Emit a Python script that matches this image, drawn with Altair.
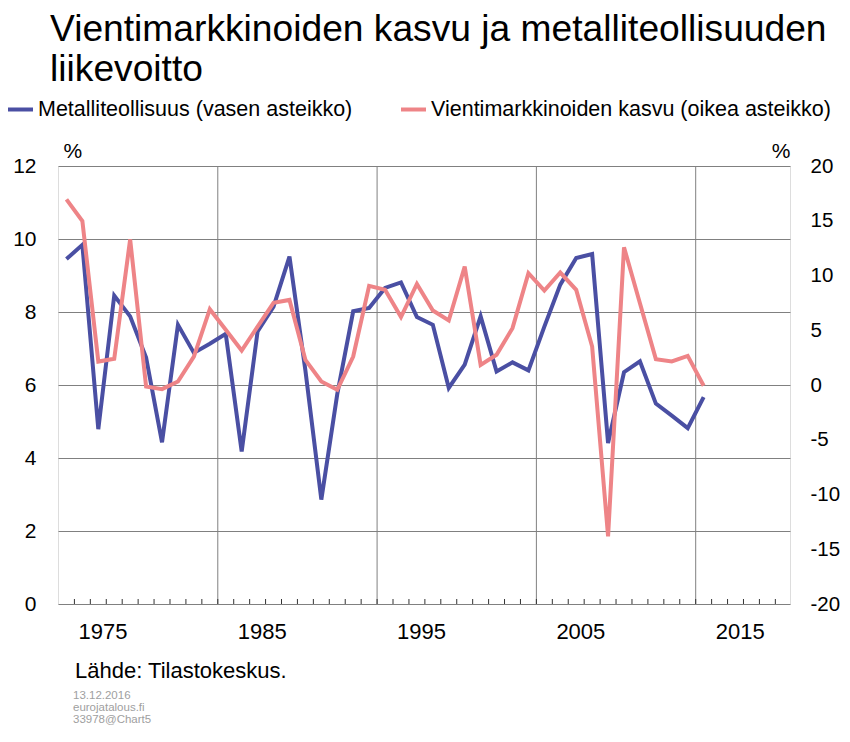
import altair as alt
import pandas as pd

# ---- data ----
years = list(range(1975, 2016))
metal = [9.45, 9.84, 4.79, 8.45, 7.88, 6.75, 4.43, 7.65, 6.88, 7.13, 7.4, 4.18, 7.47,
         8.15, 9.52, 6.4, 2.86, 5.75, 8.02, 8.11, 8.66, 8.81, 7.86, 7.65, 5.92, 6.56,
         7.88, 6.37, 6.62, 6.4, 7.6, 8.75, 9.48, 9.59, 4.41, 6.35, 6.65, 5.49, 5.16,
         4.82, 5.67]
vienti = [16.95, 14.98, 2.14, 2.39, 13.3, -0.14, -0.38, 0.32, 2.6, 6.92, 5.04, 3.15,
          5.34, 7.5, 7.77, 2.3, 0.32, -0.44, 2.6, 9.05, 8.69, 6.2, 9.23, 6.8, 5.89,
          10.81, 1.84, 2.76, 5.19, 10.21, 8.62, 10.27, 8.69, 3.51, -13.82, 12.58, 7.47,
          2.36, 2.15, 2.66, -0.07]
label_years = [1975, 1985, 1995, 2005, 2015]
left_ticks = [0, 2, 4, 6, 8, 10, 12]
right_ticks = [-20, -15, -10, -5, 0, 5, 10, 15, 20]
series_names = ["Metalliteollisuus (vasen asteikko)",
                "Vientimarkkinoiden kasvu (oikea asteikko)"]
title_lines = ["Vientimarkkinoiden kasvu ja metalliteollisuuden", "liikevoitto"]
source_text = "Lähde: Tilastokeskus."
footer_lines = ["13.12.2016", "eurojatalous.fi", "33978@Chart5"]

FONT = "Liberation Sans"
BLUE = "#4a4fa3"
PINK = "#ee8487"
GRID = "#808080"
W, H = 732, 438

df = pd.DataFrame({"year": years, "metal": metal, "vienti": vienti})
edges = pd.DataFrame({"year": [y - 0.5 for y in label_years[1:]]})
ticks = pd.DataFrame({"year": [y + 0.5 for y in range(years[0], 2020)]})
one = pd.DataFrame({"k": [0]})

xscale = alt.Scale(domain=[1974.47, 2020.42], nice=False, zero=False)
x_axis = alt.Axis(
    values=label_years, labelOffset=36, labelFontSize=22, labelFont=FONT,
    labelColor="black", ticks=False, domain=False, grid=False, labelPadding=17,
    title=None, format="d",
)
X = alt.X("year:Q", scale=xscale, axis=x_axis)

color = alt.Color(
    "series:N",
    scale=alt.Scale(domain=series_names, range=[BLUE, PINK]),
    legend=alt.Legend(
        orient="none", legendX=-52, legendY=-71, direction="horizontal", title=None,
        symbolType="stroke", symbolStrokeWidth=4, symbolSize=625, labelFontSize=21.5,
        labelFont=FONT, labelColor="black", columnPadding=40, labelOffset=3, padding=0,
        labelLimit=0,
    ),
)

vgrid = alt.Chart(edges).mark_rule(color=GRID, strokeWidth=1).encode(x=X)
minor = alt.Chart(ticks).mark_rule(color="#333333", strokeWidth=1).encode(
    x=X, y=alt.value(H - 5), y2=alt.value(H),
)

blue = alt.Chart(df).mark_line(strokeWidth=4).transform_calculate(
    series=f"'{series_names[0]}'"
).encode(
    x=X,
    y=alt.Y("metal:Q", scale=alt.Scale(domain=[0, 12], nice=False), axis=alt.Axis(
        values=left_ticks, grid=True, gridColor=GRID, gridWidth=1, domain=False,
        ticks=False, labelFontSize=21, labelFont=FONT, labelColor="black",
        labelPadding=22, title="%", titleAngle=0, titleX=5, titleY=-15,
        titleAlign="left", titleBaseline="middle", titleFontSize=21, titleFont=FONT,
        titleFontWeight="normal", titleColor="black")),
    color=color,
)

pink = alt.Chart(df).mark_line(strokeWidth=4).transform_calculate(
    series=f"'{series_names[1]}'"
).encode(
    x=X,
    y=alt.Y("vienti:Q", scale=alt.Scale(domain=[-20, 20], nice=False), axis=alt.Axis(
        orient="right", values=right_ticks, grid=False, domain=False, ticks=False,
        labelExpr="datum.value < 0 ? '-' + abs(datum.value) : '' + datum.value",
        labelFontSize=20.5, labelFont=FONT, labelColor="black", labelPadding=20,
        title="%", titleAngle=0, titleX=0, titleY=-15, titleAlign="right",
        titleBaseline="middle", titleFontSize=21, titleFont=FONT,
        titleFontWeight="normal", titleColor="black")),
    color=color,
)

source = alt.Chart(one).mark_text(
    text=source_text, align="left", baseline="middle", fontSize=22, font=FONT,
    color="black"
).encode(x=alt.value(17), y=alt.value(505))

footer = alt.Chart(one).mark_text(
    text=footer_lines, align="left", baseline="middle", fontSize=11.5, font=FONT,
    color="#a0a0a0", lineHeight=12
).encode(x=alt.value(15), y=alt.value(530))

chart = alt.layer(vgrid, minor, blue, pink, source, footer).resolve_scale(
    y="independent"
).properties(
    width=W, height=H,
    autosize=alt.AutoSizeParams(type="none"),
    padding={"left": 50, "top": 158, "right": 52, "bottom": 124},
    title=alt.TitleParams(
        text=title_lines, anchor="start", fontSize=37.2, font=FONT,
        fontWeight="normal", color="black", lineHeight=40, frame="group",
        dx=-8, offset=6,
    ),
).configure_view(stroke="#222222", strokeWidth=1.5).configure(background="white")

chart.save("out.html", embed_options={"renderer": "svg", "actions": False})
